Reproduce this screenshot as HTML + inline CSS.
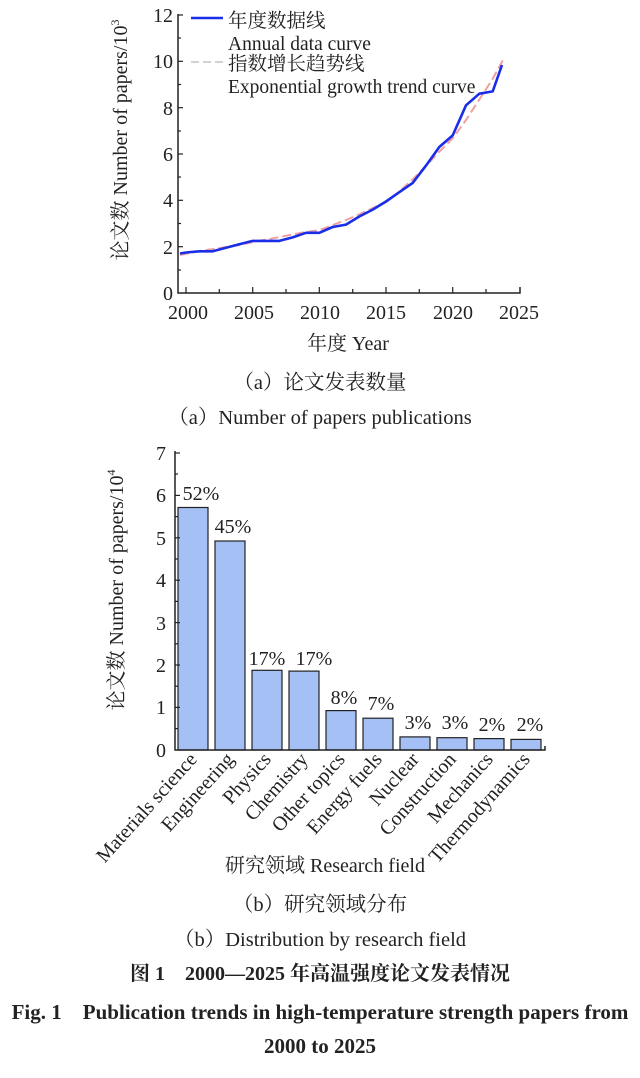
<!DOCTYPE html>
<html><head><meta charset="utf-8"><style>
body{margin:0;background:#fff;}
svg text{font-family:"Liberation Serif","Noto Serif CJK SC","Noto Sans CJK SC",serif;fill:#222;}
</style></head><body>
<svg width="640" height="1073" viewBox="0 0 640 1073" xmlns="http://www.w3.org/2000/svg">
<!-- Chart a -->
<g stroke="#222" stroke-width="1.5" fill="none">
<polyline points="178,14 178,293 520,293 520,287"/>
<g stroke-width="1.2">
<line x1="178" y1="15" x2="183" y2="15"/><line x1="178" y1="61.3" x2="183" y2="61.3"/><line x1="178" y1="107.7" x2="183" y2="107.7"/><line x1="178" y1="154" x2="183" y2="154"/><line x1="178" y1="200.3" x2="183" y2="200.3"/><line x1="178" y1="246.7" x2="183" y2="246.7"/>
<line x1="178" y1="38" x2="181" y2="38"/><line x1="178" y1="84.5" x2="181" y2="84.5"/><line x1="178" y1="131" x2="181" y2="131"/><line x1="178" y1="177" x2="181" y2="177"/><line x1="178" y1="223.5" x2="181" y2="223.5"/><line x1="178" y1="270" x2="181" y2="270"/>
<line x1="186" y1="293" x2="186" y2="287"/><line x1="252.7" y1="293" x2="252.7" y2="287"/><line x1="319.3" y1="293" x2="319.3" y2="287"/><line x1="386" y1="293" x2="386" y2="287"/><line x1="452.7" y1="293" x2="452.7" y2="287"/>
<line x1="219.3" y1="293" x2="219.3" y2="289"/><line x1="286" y1="293" x2="286" y2="289"/><line x1="352.7" y1="293" x2="352.7" y2="289"/><line x1="419.3" y1="293" x2="419.3" y2="289"/><line x1="486" y1="293" x2="486" y2="289"/>
</g></g>
<g font-size="20" text-anchor="end">
<text x="173" y="22">12</text><text x="173" y="68">10</text><text x="173" y="115">8</text><text x="173" y="161">6</text><text x="173" y="207">4</text><text x="173" y="254">2</text><text x="173" y="300">0</text>
</g>
<g font-size="20" text-anchor="middle">
<text x="188" y="319">2000</text><text x="254" y="319">2005</text><text x="320" y="319">2010</text><text x="386" y="319">2015</text><text x="453" y="319">2020</text><text x="519" y="319">2025</text>
<text x="348" y="350">年度 Year</text>
</g>
<text transform="translate(127,140) rotate(-90)" font-size="20" text-anchor="middle">论文数 Number of papers/10<tspan font-size="12" dy="-8">3</tspan></text>
<polyline fill="none" stroke="#f0a0a0" stroke-width="2" stroke-dasharray="9,4" points="180,255 200,251 220,248 240,245 253,242 280,237 300,233 320,230 346,220 360,214 386,202 399,192 413,179 426,166 439,152 453,138 466,120 479,100 492,80 503,60"/>
<polyline fill="none" stroke="#1a2ee8" stroke-width="2.6" stroke-linejoin="round" points="180,253.5 186,252.5 199.3,251.3 212.7,251.3 226,247.8 239.3,244.3 252.7,240.9 266,240.9 279.3,240.9 292.7,237.4 306,232.8 319.3,232.8 332.7,227 346,224.6 359.3,216.5 372.7,209.6 386,201.5 399.3,192.2 412.7,182.9 426,165.6 439.3,147 452.7,135.4 466,105.3 479.3,93.7 492.7,91.4 502,65"/>
<line x1="191" y1="18" x2="223" y2="18" stroke="#1a2ee8" stroke-width="2.6"/>
<line x1="191" y1="62" x2="223" y2="62" stroke="#ccc" stroke-width="1.8" stroke-dasharray="8,4"/>
<g font-size="19.5">
<text x="228" y="27">年度数据线</text>
<text x="228" y="50">Annual data curve</text>
<text x="228" y="70">指数增长趋势线</text>
<text x="228" y="93">Exponential growth trend curve</text>
</g>
<g font-size="20.5" text-anchor="middle">
<text x="320" y="389">（a）论文发表数量</text>
<text x="320" y="424">（a）Number of papers publications</text>
</g>
<!-- Chart b -->
<g fill="#a5c0f5" stroke="#222" stroke-width="1.2">
<rect x="178" y="507.5" width="30" height="242.5"/>
<rect x="215" y="541" width="30" height="209"/>
<rect x="252" y="670.3" width="30" height="79.7"/>
<rect x="289" y="671.1" width="30" height="78.9"/>
<rect x="326" y="710.6" width="30" height="39.4"/>
<rect x="363" y="718.2" width="30" height="31.8"/>
<rect x="400" y="736.9" width="30" height="13.1"/>
<rect x="437" y="737.7" width="30" height="12.3"/>
<rect x="474" y="738.6" width="30" height="11.4"/>
<rect x="511" y="739.4" width="30" height="10.6"/>
</g>
<g stroke="#222" stroke-width="1.5" fill="none">
<polyline points="175,451 175,750 545,750 545,746"/>
<g stroke-width="1.2">
<line x1="175" y1="453" x2="180" y2="453"/><line x1="175" y1="495.4" x2="180" y2="495.4"/><line x1="175" y1="537.8" x2="180" y2="537.8"/><line x1="175" y1="580.2" x2="180" y2="580.2"/><line x1="175" y1="622.6" x2="180" y2="622.6"/><line x1="175" y1="665" x2="180" y2="665"/><line x1="175" y1="707.4" x2="180" y2="707.4"/>
<line x1="175" y1="474" x2="178" y2="474"/><line x1="175" y1="516.6" x2="178" y2="516.6"/><line x1="175" y1="559" x2="178" y2="559"/><line x1="175" y1="601.4" x2="178" y2="601.4"/><line x1="175" y1="643.8" x2="178" y2="643.8"/><line x1="175" y1="686.2" x2="178" y2="686.2"/><line x1="175" y1="728.6" x2="178" y2="728.6"/>
</g></g>
<g font-size="20" text-anchor="end">
<text x="166" y="460">7</text><text x="166" y="502">6</text><text x="166" y="545">5</text><text x="166" y="587">4</text><text x="166" y="630">3</text><text x="166" y="672">2</text><text x="166" y="714">1</text><text x="166" y="757">0</text>
</g>
<text transform="translate(123,590) rotate(-90)" font-size="20" text-anchor="middle">论文数 Number of papers/10<tspan font-size="12" dy="-8">4</tspan></text>
<g font-size="20" text-anchor="middle">
<text x="201" y="500">52%</text><text x="233" y="533">45%</text><text x="267" y="665">17%</text><text x="314" y="665">17%</text><text x="344" y="704">8%</text><text x="381" y="710">7%</text><text x="418" y="729">3%</text><text x="455" y="729">3%</text><text x="492" y="731">2%</text><text x="530" y="731">2%</text>
</g>
<g font-size="20" text-anchor="end">
<text transform="translate(198,760) rotate(-48)">Materials science</text>
<text transform="translate(235,760) rotate(-48)">Engineering</text>
<text transform="translate(272,760) rotate(-48)">Physics</text>
<text transform="translate(309,760) rotate(-48)">Chemistry</text>
<text transform="translate(346,760) rotate(-48)">Other topics</text>
<text transform="translate(383,760) rotate(-48)">Energy fuels</text>
<text transform="translate(420,760) rotate(-48)">Nuclear</text>
<text transform="translate(457,760) rotate(-48)">Construction</text>
<text transform="translate(494,760) rotate(-48)">Mechanics</text>
<text transform="translate(531,760) rotate(-48)">Thermodynamics</text>
</g>
<text x="325" y="872" font-size="20" text-anchor="middle">研究领域 Research field</text>
<g font-size="20.5" text-anchor="middle">
<text x="320" y="911">（b）研究领域分布</text>
<text x="320" y="946">（b）Distribution by research field</text>
<text x="320" y="980" font-weight="bold" font-size="20">图 1　2000—2025 年高温强度论文发表情况</text>
<text x="320" y="1019" font-weight="bold" font-size="21">Fig. 1　Publication trends in high-temperature strength papers from</text>
<text x="320" y="1053" font-weight="bold" font-size="21">2000 to 2025</text>
</g>
</svg>
</body></html>
